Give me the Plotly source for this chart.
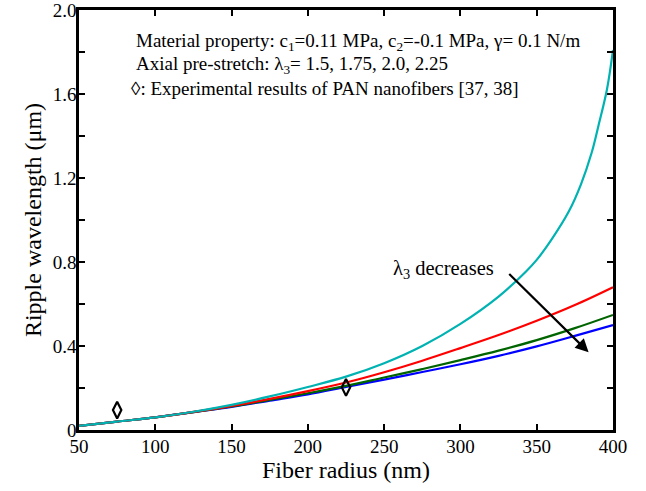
import plotly.graph_objects as go

# Fiber radius (nm)
radius = [50, 75, 100, 125, 150, 175, 200, 225, 250, 275, 300, 325, 350, 375, 400]
radius_c = [50, 75, 100, 125, 150, 175, 200, 225, 250, 275, 300, 325, 343, 350, 360, 371,
            379, 386, 390.5, 396, 400]

# Ripple wavelength (um) for each axial pre-stretch
lam_150 = [0.02, 0.04, 0.06, 0.085, 0.11, 0.14, 0.17, 0.205, 0.24, 0.276, 0.313, 0.353, 0.398, 0.448, 0.50]
lam_175 = [0.02, 0.04, 0.06, 0.085, 0.112, 0.143, 0.175, 0.21, 0.25, 0.29, 0.333, 0.378, 0.428, 0.485, 0.548]
lam_200 = [0.02, 0.04, 0.06, 0.086, 0.115, 0.148, 0.185, 0.226, 0.275, 0.33, 0.39, 0.452, 0.52, 0.595, 0.68]
lam_225 = [0.02, 0.04, 0.06, 0.087, 0.12, 0.16, 0.205, 0.254, 0.318, 0.40, 0.505, 0.635, 0.755, 0.81,
           0.91, 1.04, 1.17, 1.32, 1.45, 1.62, 1.81]

# Experimental results (PAN nanofibers)
exp_r = [75, 225]
exp_w = [0.095, 0.203]

xticks = [50, 100, 150, 200, 250, 300, 350, 400]
yticks = [0, 0.4, 0.8, 1.2, 1.6, 2.0]
yticklabels = ["0", "0.4", "0.8", "1.2", "1.6", "2.0"]

font_family = "Liberation Serif"

fig = go.Figure()
for xs, ys, col in [(radius, lam_150, "#0000ff"),
                    (radius, lam_175, "#006400"),
                    (radius, lam_200, "#ff0000"),
                    (radius_c, lam_225, "#00b2b2")]:
    fig.add_trace(go.Scatter(x=xs, y=ys, mode="lines", line=dict(color=col, width=2.2),
                             line_shape="spline", line_smoothing=1.0, showlegend=False))

fig.add_trace(go.Scatter(x=exp_r, y=exp_w, mode="markers", showlegend=False,
                         marker=dict(symbol="diamond-tall-open", size=12, color="black",
                                     line=dict(width=2.2, color="black"))))

ann_font = dict(family=font_family, size=19, color="black")
lines = [
    "Material property: c<sub>1</sub>=0.11 MPa, c<sub>2</sub>=-0.1 MPa, γ= 0.1 N/m",
    "Axial pre-stretch: λ<sub>3</sub>= 1.5, 1.75, 2.0, 2.25",
    "<b>◊</b>: Experimental results of PAN nanofibers [37, 38]",
]
ys_paper = [0.923, 0.869, 0.812]
xs_paper = [0.103, 0.103, 0.094]
for t, yp, xp in zip(lines, ys_paper, xs_paper):
    fig.add_annotation(text=t, xref="paper", yref="paper", x=xp, y=yp,
                       xanchor="left", yanchor="middle", showarrow=False, font=ann_font)

fig.add_annotation(text="λ<sub>3</sub> decreases", x=289, y=0.765, xref="x", yref="y",
                   showarrow=False, font=dict(family=font_family, size=20.5, color="black"))
fig.add_annotation(x=384, y=0.37, ax=331, ay=0.75, xref="x", yref="y", axref="x", ayref="y",
                   text="", showarrow=True, arrowhead=2, arrowsize=1.2, arrowwidth=2.2,
                   arrowcolor="black")

axis_common = dict(showline=True, linecolor="black", linewidth=2.5, mirror="ticks",
                   ticks="inside", ticklen=6, tickwidth=2, tickcolor="black",
                   showgrid=False, zeroline=False, automargin=False,
                   ticklabeloverflow="allow",
                   tickfont=dict(family=font_family, size=19, color="black"))

fig.update_xaxes(range=[50, 400], tickvals=xticks, ticklabelstandoff=-3, title=dict(
    text="Fiber radius (nm)", font=dict(family=font_family, size=24, color="black"), standoff=3),
    **axis_common)
fig.update_yaxes(range=[0, 2.0], tickvals=yticks, ticktext=yticklabels, ticklabelstandoff=-4,
                 minor=dict(ticks="inside", ticklen=6, tickwidth=2, tickcolor="black", dtick=0.2,
                            showgrid=False),
                 title=dict(text="Ripple wavelength (μm)",
                            font=dict(family=font_family, size=24, color="black"), standoff=5),
                 **axis_common)

fig.update_layout(width=646, height=491, margin=dict(l=79, r=33, t=10, b=61),
                  plot_bgcolor="white", paper_bgcolor="white")

# remove the page's default body margin so the figure fills the window exactly
fig.write_html("out.html", config={"displayModeBar": False},
               post_script="document.body.style.margin='0';")
